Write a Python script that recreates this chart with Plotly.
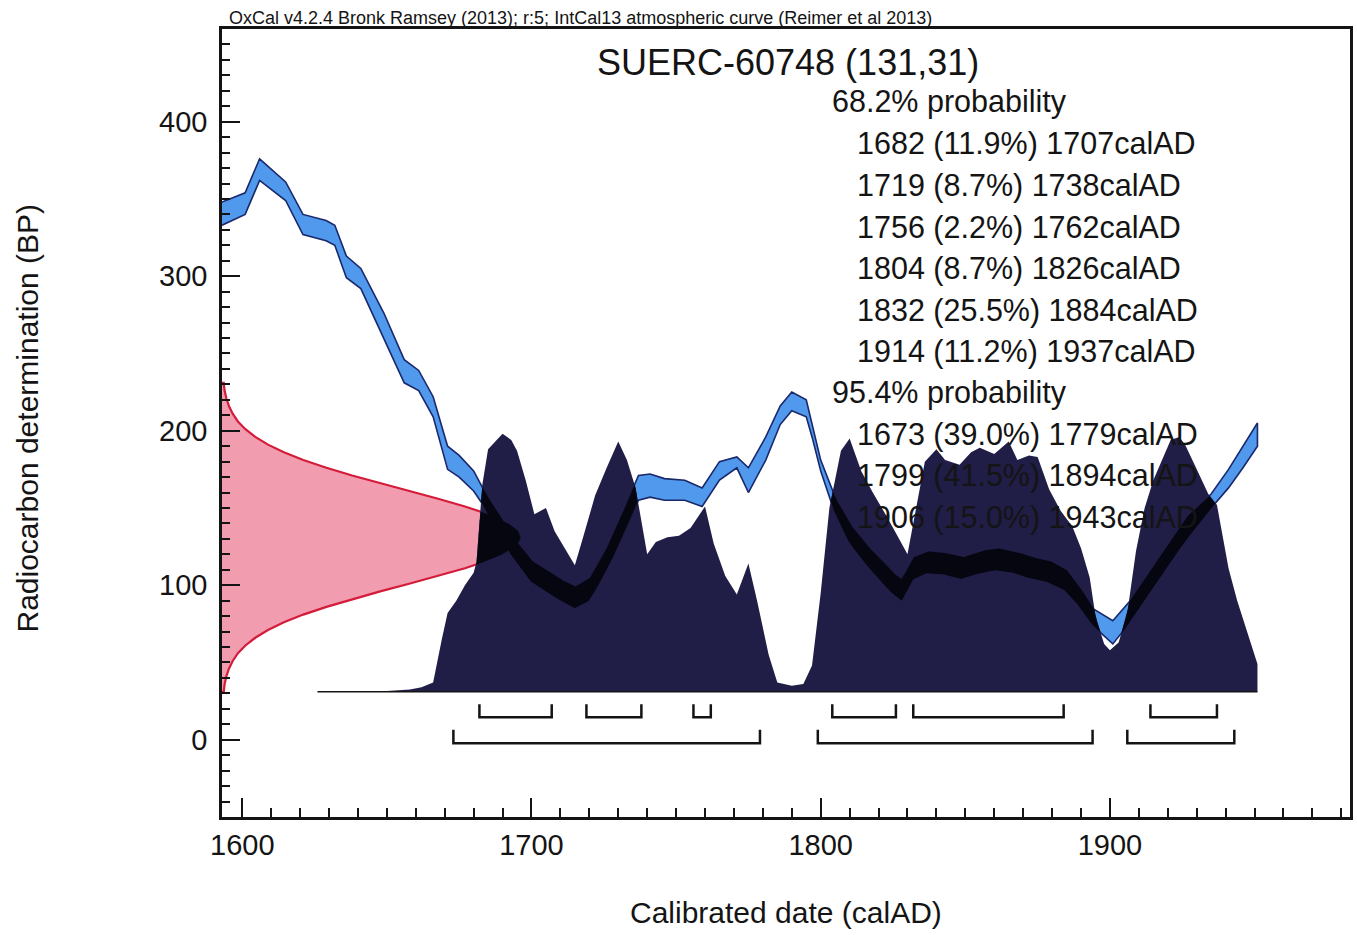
import numpy as np
import plotly.graph_objects as go

# ---------------- data ----------------
# IntCal13 calibration curve band: calendar year, upper / lower edge (BP)
cal_year = [1593, 1601, 1606, 1615, 1621, 1629, 1632, 1636, 1641, 1649,
            1656, 1661, 1666, 1671, 1675, 1680, 1684, 1690, 1695, 1700,
            1705, 1710, 1715, 1720, 1725, 1730, 1734, 1737, 1741, 1746,
            1753, 1759, 1765, 1771, 1775, 1781, 1786, 1790, 1795, 1797,
            1800, 1805, 1810, 1815, 1820, 1825, 1828, 1832, 1837, 1843,
            1849, 1855, 1861, 1867, 1873, 1879, 1885, 1890, 1894, 1901,
            1907, 1912, 1917, 1922, 1927, 1931, 1935, 1941, 1946, 1951]
cal_top = [348, 354, 376, 361, 340, 336, 333, 313, 305, 276,
           246, 239, 222, 190, 184, 174, 160, 142, 128, 116,
           110, 104, 99, 104, 120, 140, 158, 171, 172, 169,
           168, 163, 180, 183, 176, 196, 216, 225, 220, 205,
           181, 157, 140, 128, 118, 108, 104, 118, 122, 121,
           118, 122, 124, 122, 118, 116, 110, 98, 85, 77,
           90, 104, 118, 132, 145, 152, 159, 175, 190, 205]
cal_bot = [333, 340, 362, 349, 327, 323, 320, 299, 292, 259,
           231, 226, 209, 175, 170, 161, 150, 128, 114, 102,
           96, 90, 85, 90, 106, 125, 143, 155, 157, 155,
           155, 151, 168, 176, 160, 181, 204, 213, 209, 196,
           174, 146, 127, 115, 104, 94, 90, 104, 108, 107,
           104, 108, 110, 108, 104, 102, 96, 85, 74, 62,
           76, 90, 104, 118, 131, 140, 150, 163, 176, 190]

# Radiocarbon determination 131 +/- 31 BP, drawn along the y axis (width in years)
red_y = [31, 36, 41, 46, 51, 56, 61, 66, 71, 76, 81, 86, 91, 96, 101, 106, 111,
         116, 121, 126, 131, 136, 141, 146, 151, 156, 161, 166, 171, 176, 181,
         186, 191, 196, 201, 206, 211, 216, 221, 226, 231]
red_w = [0.6, 0.9, 1.5, 2.4, 3.7, 5.5, 8.1, 11.5, 15.9, 21.4, 28.1, 36.1, 45.0,
         54.7, 64.7, 74.7, 84.0, 92.0, 98.1, 102.1, 103.4, 102.1, 98.1, 92.0,
         84.0, 74.7, 64.7, 54.7, 45.0, 36.1, 28.1, 21.4, 15.9, 11.5, 8.1, 5.5,
         3.7, 2.4, 1.5, 0.9, 0.6]

# Calibrated (posterior) probability distribution, drawn above its baseline
post_year = [1626, 1640, 1650, 1658, 1662, 1666, 1669, 1671, 1674, 1677,
             1680, 1681, 1683, 1685, 1690, 1693, 1695, 1698, 1701, 1705,
             1708, 1712, 1715, 1718, 1722, 1726, 1730, 1733, 1736, 1740,
             1743, 1747, 1751, 1755, 1760, 1763, 1767, 1771, 1775, 1778,
             1782, 1785, 1790, 1794, 1797, 1800, 1803, 1807, 1810, 1814,
             1818, 1823, 1827, 1830, 1833, 1836, 1840, 1843, 1848, 1852,
             1855, 1860, 1865, 1868, 1872, 1875, 1879, 1883, 1887, 1890,
             1893, 1895, 1898, 1900, 1903, 1906, 1909, 1912, 1915, 1918,
             1921, 1924, 1926, 1930, 1934, 1937, 1941, 1944, 1947, 1951]
post_val = [31, 31, 31.5, 32.5, 34, 37, 65, 82, 90, 100,
            108, 115, 165, 188, 198, 194, 187, 168, 146, 150,
            135, 122, 113, 132, 158, 176, 193, 181, 163, 120,
            128, 131, 132, 137, 151, 127, 106, 94, 114, 90,
            55, 37, 35, 36, 48, 95, 150, 187, 195, 174,
            160, 144, 130, 120, 150, 180, 188, 181, 178, 186,
            189, 185, 193, 181, 184, 183, 162, 148, 138, 124,
            105, 80, 62, 58, 63, 82, 122, 150, 168, 181,
            194, 196, 191, 175, 159, 152, 111, 90, 72, 49]
POST_BASE = 31

# Highest probability density ranges
r68_from = [1682, 1719, 1756, 1804, 1832, 1914]
r68_to = [1707, 1738, 1762, 1826, 1884, 1937]
r68_pct = [11.9, 8.7, 2.2, 8.7, 25.5, 11.2]
r95_from = [1673, 1799, 1906]
r95_to = [1779, 1894, 1943]
r95_pct = [39.0, 41.5, 15.0]

sample_name = "SUERC-60748 (131,31)"
header = "OxCal v4.2.4 Bronk Ramsey (2013); r:5; IntCal13 atmospheric curve (Reimer et al 2013)"

X_RANGE = [1593, 1983]
Y_RANGE = [-50, 460]

# ---------------- styles ----------------
FONT = "Liberation Sans, Arial, Helvetica, sans-serif"
INK = "#141414"
PINK = "rgb(241,156,175)"
RED = "rgb(212,28,58)"
BLUE = "rgb(80,153,236)"
BLUE_EDGE = "rgb(26,40,108)"
NAVY = "rgb(32,29,70)"
BLACKISH = "rgb(6,6,16)"

fig = go.Figure()

# red radiocarbon determination (starts at the y axis)
rb = X_RANGE[0]
fig.add_trace(go.Scatter(
    x=[rb] + [rb + w for w in red_w] + [rb],
    y=[red_y[0]] + red_y + [red_y[-1]],
    mode="lines", fill="toself", fillcolor=PINK,
    line=dict(color=RED, width=2.2), hoverinfo="skip"))

# calibration curve band
fig.add_trace(go.Scatter(
    x=cal_year + cal_year[::-1],
    y=cal_top + cal_bot[::-1],
    mode="lines", fill="toself", fillcolor=BLUE,
    line=dict(color=BLUE_EDGE, width=1.6), hoverinfo="skip"))

# posterior distribution
fig.add_trace(go.Scatter(
    x=post_year + [post_year[-1], post_year[0]],
    y=post_val + [POST_BASE, POST_BASE],
    mode="lines", fill="toself", fillcolor=NAVY,
    line=dict(width=0, color=NAVY), hoverinfo="skip"))

# darker overlap of the curve band / determination behind the distribution
g = np.arange(post_year[0], post_year[-1] + 0.001, 0.1)
f = np.interp(g, post_year, post_val)
bt = np.interp(g, cal_year, cal_top)
bb = np.interp(g, cal_year, cal_bot)
inside = np.where(f > bb)[0]
ox, oy = [], []
if len(inside):
    runs = np.split(inside, np.where(np.diff(inside) != 1)[0] + 1)
    for r in runs:
        if len(r) < 2:
            continue
        up = np.minimum(bt[r], f[r])
        ox += list(g[r]) + list(g[r][::-1]) + [None]
        oy += list(up) + list(bb[r][::-1]) + [None]
fig.add_trace(go.Scatter(x=ox, y=oy, mode="lines", fill="toself",
                         fillcolor=BLACKISH, line=dict(width=0, color=BLACKISH),
                         hoverinfo="skip"))

yy = np.arange(red_y[0], red_y[-1] + 0.001, 0.2)
R = rb + np.interp(yy, red_y, red_w)
L = np.array([g[np.argmax(f >= y)] if (f >= y).any() else np.inf for y in yy])
ok = L < R
if ok.any():
    fig.add_trace(go.Scatter(
        x=list(L[ok]) + list(R[ok][::-1]),
        y=list(yy[ok]) + list(yy[ok][::-1]),
        mode="lines", fill="toself", fillcolor=BLACKISH,
        line=dict(width=0, color=BLACKISH), hoverinfo="skip"))

# baseline of the distribution
fig.add_trace(go.Scatter(x=[post_year[0], post_year[-1]], y=[POST_BASE, POST_BASE],
                         mode="lines", line=dict(color=INK, width=1.5), hoverinfo="skip"))

# range brackets
def brackets(a_list, b_list, bar, top):
    xs, ys = [], []
    for a, b in zip(a_list, b_list):
        xs += [a, a, b, b, None]
        ys += [top, bar, bar, top, None]
    return xs, ys

bx, by = brackets(r68_from, r68_to, 14.5, 23)
fig.add_trace(go.Scatter(x=bx, y=by, mode="lines",
                         line=dict(color=INK, width=2.5), hoverinfo="skip"))
bx, by = brackets(r95_from, r95_to, -2.3, 6.5)
fig.add_trace(go.Scatter(x=bx, y=by, mode="lines",
                         line=dict(color=INK, width=2.5), hoverinfo="skip"))

# ---------------- layout ----------------
L_PX, R_PX, T_PX, B_PX = 222, 1353, 29, 817
W, H = 1357, 935


def px_x(px):
    return (px - L_PX) / (R_PX - L_PX)


def px_y(py):
    return (B_PX - py) / (B_PX - T_PX)


ann = []
ann.append(dict(text=header, x=px_x(227), y=1, xref="paper", yref="paper",
                xanchor="left", yanchor="bottom", yshift=-1, showarrow=False,
                font=dict(size=18, family=FONT, color=INK)))
ann.append(dict(text=sample_name, x=px_x(790), y=px_y(63), xref="paper", yref="paper",
                xanchor="center", yanchor="middle", showarrow=False,
                font=dict(size=36, family=FONT, color=INK)))

lines = [("68.2% probability", 832, 102)]
ys68 = [144, 185.5, 227, 268.5, 310, 351.5]
for (a, p, b), yp in zip(zip(r68_from, r68_pct, r68_to), ys68):
    lines.append((f"{a} ({p:.1f}%) {b}calAD", 857, yp))
lines.append(("95.4% probability", 832, 392.5))
ys95 = [434, 475.5, 517]
for (a, p, b), yp in zip(zip(r95_from, r95_pct, r95_to), ys95):
    lines.append((f"{a} ({p:.1f}%) {b}calAD", 857, yp))
for t, xp, yp in lines:
    ann.append(dict(text=t, x=px_x(xp), y=px_y(yp), xref="paper", yref="paper",
                    xanchor="left", yanchor="middle", showarrow=False,
                    font=dict(size=30.5, family=FONT, color=INK)))

ann.append(dict(text="Calibrated date (calAD)", x=0.5, y=px_y(913), xref="paper",
                yref="paper", xanchor="center", yanchor="middle", showarrow=False,
                font=dict(size=30, family=FONT, color=INK)))
ann.append(dict(text="Radiocarbon determination (BP)", x=px_x(27), y=px_y(418),
                xref="paper", yref="paper", xanchor="center", yanchor="middle",
                textangle=-90, showarrow=False,
                font=dict(size=30, family=FONT, color=INK)))

fig.update_layout(
    width=W, height=H, autosize=False,
    margin=dict(l=L_PX, r=W - R_PX, t=T_PX, b=H - B_PX, pad=0),
    plot_bgcolor="white", paper_bgcolor="white", showlegend=False,
    font=dict(family=FONT, color=INK),
    annotations=ann,
)
axis_common = dict(showline=True, linewidth=2.5, linecolor=INK, mirror=True,
                   showgrid=False, zeroline=False, ticks="inside", tickwidth=2,
                   tickcolor=INK, tickfont=dict(size=29, family=FONT, color=INK))
fig.update_xaxes(range=X_RANGE, tick0=1600, dtick=100, ticklen=19,
                 minor=dict(ticks="inside", dtick=10, tick0=1600, ticklen=9,
                            tickwidth=1.5, tickcolor=INK, showgrid=False),
                 **axis_common)
fig.update_yaxes(range=Y_RANGE, tick0=0, dtick=100, ticklen=18,
                 minor=dict(ticks="inside", dtick=10, tick0=0, ticklen=8,
                            tickwidth=1.5, tickcolor=INK, showgrid=False),
                 ticklabelstandoff=6, **axis_common)

fig.write_html("out.html")
